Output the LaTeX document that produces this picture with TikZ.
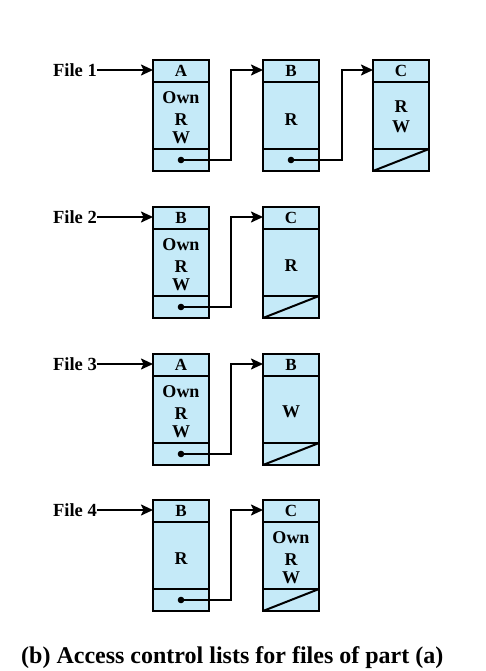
\documentclass[tikz,border=0pt]{standalone}
\usepackage{fontspec}
\setmainfont{Liberation Serif}
\usetikzlibrary{arrows.meta}
\definecolor{cellblue}{RGB}{197,234,248}
\tikzset{
  cell/.style={draw=black, fill=cellblue, line width=2pt, minimum width=56pt, inner sep=0pt, outer sep=0pt},
  hdr/.style={cell, minimum height=22pt, font=\fontsize{17}{17}\selectfont\bfseries},
  bod/.style={cell, minimum height=67pt},
  ftr/.style={cell, minimum height=22pt},
  txt/.style={align=center, inner sep=0pt, font=\fontsize{18}{18}\selectfont\bfseries},
  lbl/.style={anchor=east, inner sep=0pt, font=\fontsize{18.5}{18.5}\selectfont\bfseries},
  lnk/.style={line width=2pt, -{Stealth[length=12pt,width=11pt,inset=2.5pt]}},
  slash/.style={line width=2pt},
  captxt/.style={anchor=base west, inner sep=0pt, font=\fontsize{24}{24}\selectfont\bfseries},
}
% #1 name, #2 centre x, #3 top y, #4 header, #5 body text, #6 text offset
\newcommand\aclcell[6]{%
  \node[hdr] (#1-h) at (#2,#3+11) {#4};
  \node[bod] (#1-b) at (#2,#3+55.5) {};
  \node[ftr] (#1-f) at (#2,#3+100) {};
  \node[txt] (#1-t) at (#2,#3+#6) {#5};
}
\newcommand\acldot[1]{\fill (#1) circle[radius=3.3pt];}
\begin{document}
\begin{tikzpicture}[x=1pt,y=-1pt]
\useasboundingbox (0,0) rectangle (486,671);

% ---- File 1
\node[lbl] (f1) at (97,70) {File 1};
\aclcell{r1a}{181}{60}{A}{Own\\[4pt]R\\W}{58}
\aclcell{r1b}{291}{60}{B}{R}{60}
\aclcell{r1c}{401}{60}{C}{R\\[2pt]W}{57}
\draw[slash] (r1c-f.south west) -- (r1c-f.north east);
\draw[lnk] (f1.east) -- (f1.east -| r1a-h.west);
\coordinate (k1a) at (231,70);
\coordinate (k1b) at (342,70);
\acldot{r1a-f.center}
\draw[lnk] (r1a-f.center) -| (k1a) -- (k1a -| r1b-h.west);
\acldot{r1b-f.center}
\draw[lnk] (r1b-f.center) -| (k1b) -- (k1b -| r1c-h.west);

% ---- File 2
\node[lbl] (f2) at (97,217) {File 2};
\aclcell{r2a}{181}{207}{B}{Own\\[4pt]R\\W}{58}
\aclcell{r2b}{291}{207}{C}{R}{59}
\draw[slash] (r2b-f.south west) -- (r2b-f.north east);
\draw[lnk] (f2.east) -- (f2.east -| r2a-h.west);
\coordinate (k2a) at (231,217);
\acldot{r2a-f.center}
\draw[lnk] (r2a-f.center) -| (k2a) -- (k2a -| r2b-h.west);

% ---- File 3
\node[lbl] (f3) at (97,364) {File 3};
\aclcell{r3a}{181}{354}{A}{Own\\[4pt]R\\W}{58}
\aclcell{r3b}{291}{354}{B}{W}{58}
\draw[slash] (r3b-f.south west) -- (r3b-f.north east);
\draw[lnk] (f3.east) -- (f3.east -| r3a-h.west);
\coordinate (k3a) at (231,364);
\acldot{r3a-f.center}
\draw[lnk] (r3a-f.center) -| (k3a) -- (k3a -| r3b-h.west);

% ---- File 4
\node[lbl] (f4) at (97,510) {File 4};
\aclcell{r4a}{181}{500}{B}{R}{59}
\aclcell{r4b}{291}{500}{C}{Own\\[4pt]R\\W}{58}
\draw[slash] (r4b-f.south west) -- (r4b-f.north east);
\draw[lnk] (f4.east) -- (f4.east -| r4a-h.west);
\coordinate (k4a) at (231,510);
\acldot{r4a-f.center}
\draw[lnk] (r4a-f.center) -| (k4a) -- (k4a -| r4b-h.west);

% ---- caption
\node[captxt] (cap) at (21,663) {(b) Access control lists for files of part (a)};
\end{tikzpicture}
\end{document}
